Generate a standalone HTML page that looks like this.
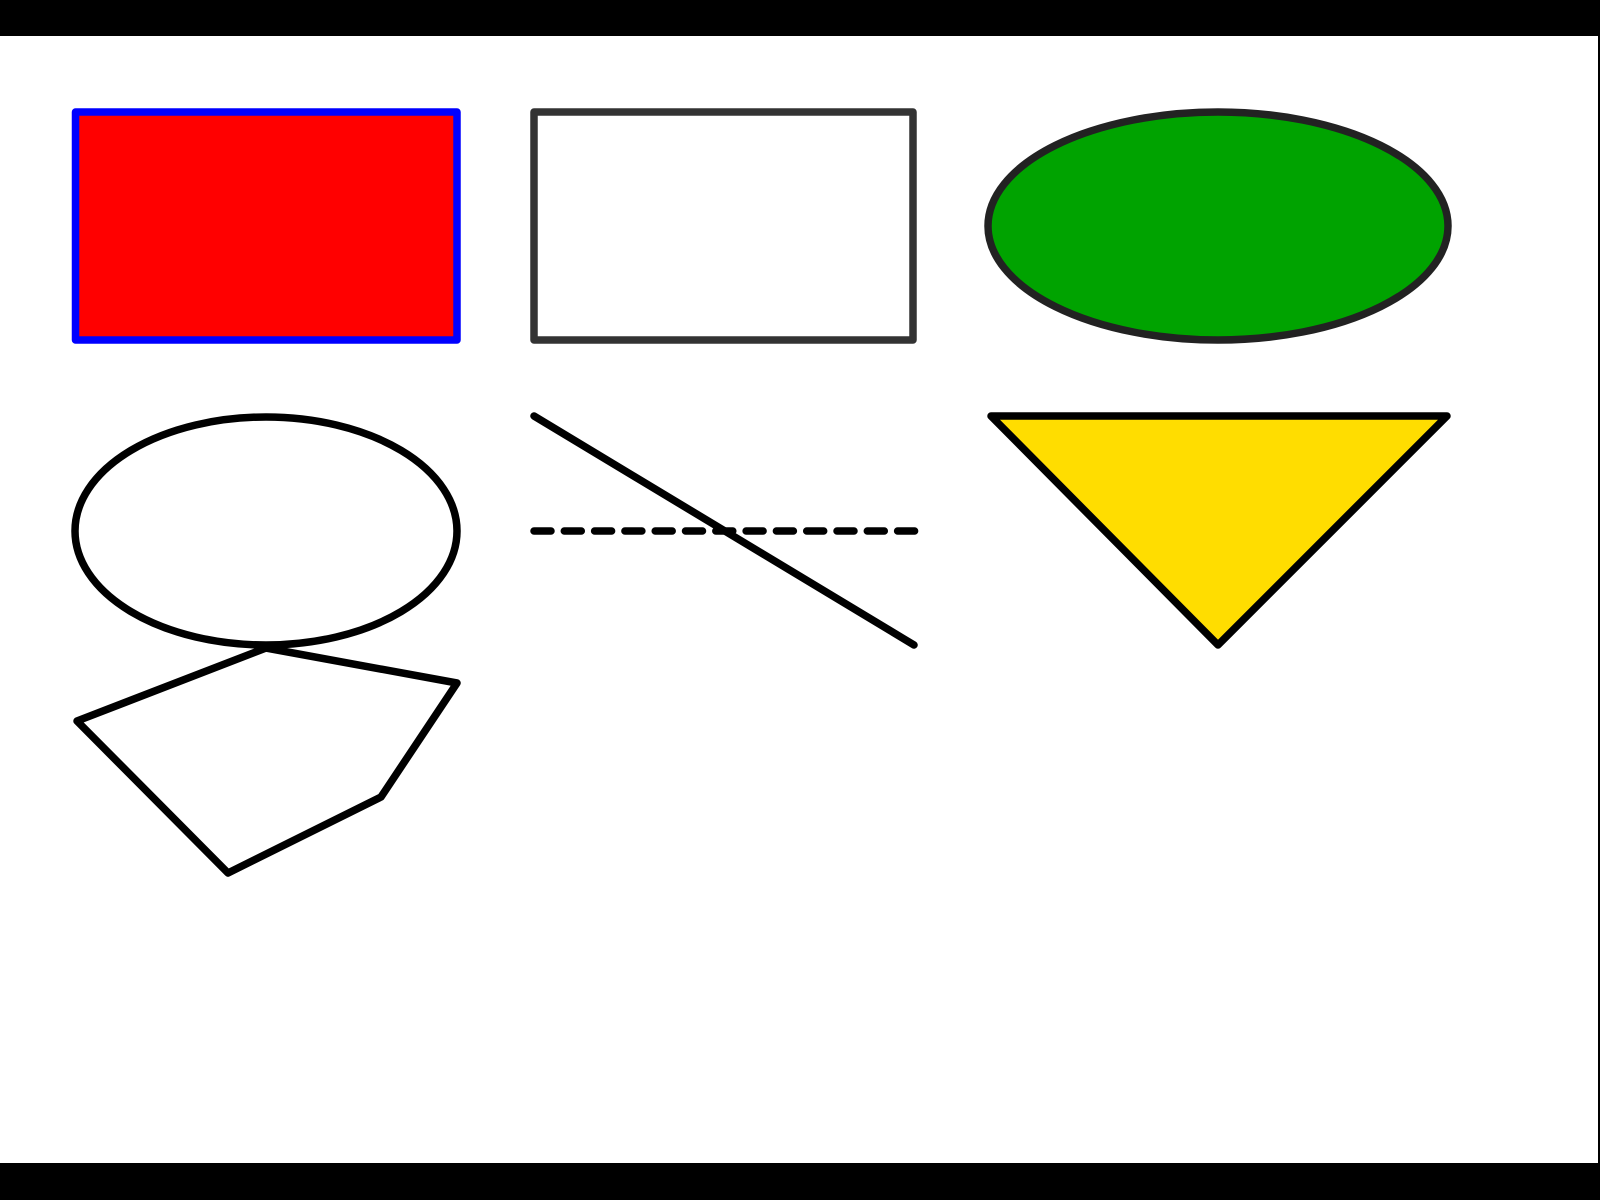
<!DOCTYPE html>
<html><head><meta charset="utf-8"><style>html,body{margin:0;padding:0;background:#fff}svg{display:block}</style></head>
<body>
<svg width="1600" height="1200" viewBox="0 0 1600 1200" xmlns="http://www.w3.org/2000/svg">
<rect x="0" y="0" width="1600" height="1200" fill="#fff"/>
<rect x="0" y="0" width="1600" height="36" fill="#000"/>
<rect x="0" y="1163" width="1600" height="37" fill="#000"/>
<rect x="1598" y="0" width="2" height="1200" fill="#000"/>
<g stroke-width="7.5" stroke-linejoin="round" stroke-linecap="round">
<rect x="75.5" y="112" width="381.5" height="228" fill="#ff0000" stroke="#0000ff"/>
<rect x="534" y="112" width="379" height="228" fill="none" stroke="#333"/>
<ellipse cx="1218" cy="226" rx="230" ry="114" fill="#00a300" stroke="#222"/>
<ellipse cx="266" cy="531" rx="191" ry="114" fill="none" stroke="#000"/>
<line x1="534" y1="416" x2="914" y2="645" stroke="#000"/>
<line x1="534" y1="531" x2="915" y2="531" stroke="#000" stroke-dasharray="17 13.3"/>
<polygon points="991,416 1447,416 1218,645" fill="#ffdd00" stroke="#000"/>
<polygon points="266,648 457,683 381,797 228,873 77,721" fill="none" stroke="#000"/>
</g>
</svg>
</body></html>
